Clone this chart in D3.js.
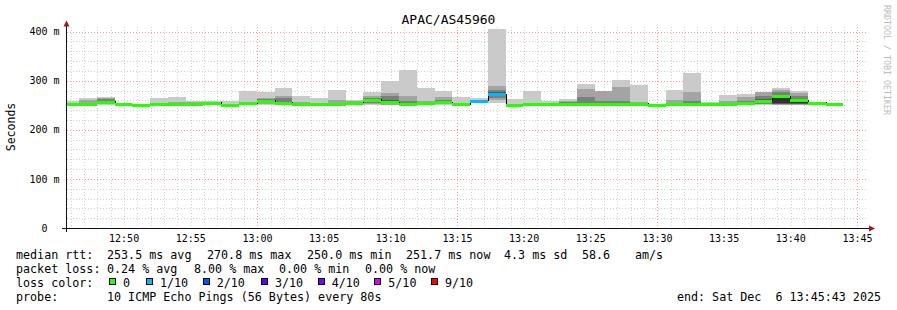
<!DOCTYPE html>
<html>
<head>
<meta charset="utf-8">
<script src="https://cdn.jsdelivr.net/npm/d3@7"></script>
<style>
  body { margin: 0; background: #fff; }
  text { font-family: "DejaVu Sans Mono", monospace; fill: #000; }
</style>
</head>
<body>
<svg id="chart"></svg>
<script>
// chart size
var width = 897;
var height = 310;

// plot box
var plotLeft = 67, plotRight = 867, plotTop = 27, plotBottom = 228;

// data (one bin every 80s)
var startTime = new Date(2025, 11, 6, 12, 45, 43);
var endTime = new Date(2025, 11, 6, 13, 45, 43);
var firstBinEnd = new Date(2025, 11, 6, 12, 46, 37);
var stepSec = 80;

var medians = [252, 252, 256, 251, 249.5, 251.5, 252, 251, 254, 249.5,
  253, 258, 254, 252, 251.5, 251.5, 254, 260, 255, 251,
  253, 255, 251, 258, 271, 249, 251, 251, 251, 252,
  252, 252, 252, 249, 251, 251, 251, 251.5, 254, 258,
  267, 259, 254, 251.7];

var losses = [0, 0, 0, 0, 0, 0, 0, 0, 0, 0,
  0, 0, 0, 0, 0, 0, 0, 0, 0, 0,
  0, 0, 0, 1, 1, 0, 0, 0, 0, 0,
  0, 0, 0, 0, 0, 0, 0, 0, 0, 0,
  0, 0, 0, 0];

// 10 sorted pings per bin
var pings = [
  [250, 251, 251, 252, 252, 252, 253, 254, 255, 259],
  [250, 251, 251, 252, 252, 252, 253, 255, 261, 264],
  [251, 252, 253, 255, 256, 256, 258, 262, 264, 267],
  [249, 250, 250, 251, 251, 251, 251, 252, 252, 253],
  [248, 248, 249, 249, 249, 250, 250, 250, 251, 251],
  [250, 250, 251, 251, 251, 252, 252, 253, 254, 264],
  [250, 251, 251, 252, 252, 252, 253, 254, 256, 267],
  [250, 250, 251, 251, 251, 251, 253, 255, 256, 258],
  [250, 251, 252, 253, 254, 254, 255, 256, 257, 259],
  [248, 248, 249, 249, 249, 250, 250, 250, 251, 259],
  [250, 251, 252, 252, 253, 253, 254, 255, 257, 279],
  [251, 253, 255, 257, 258, 258, 260, 262, 264, 276],
  [250, 251, 252, 253, 254, 254, 257, 264, 269, 286],
  [250, 251, 251, 252, 252, 252, 253, 255, 257, 268],
  [250, 250, 251, 251, 251, 252, 252, 253, 255, 265],
  [250, 250, 251, 251, 251, 252, 253, 255, 260, 281],
  [250, 251, 252, 253, 254, 254, 255, 256, 258, 261],
  [250, 252, 254, 256, 259, 261, 262, 265, 269, 277],
  [250, 251, 253, 254, 255, 255, 261, 268, 274, 299],
  [249, 250, 250, 251, 251, 251, 253, 259, 269, 321],
  [250, 251, 252, 253, 253, 253, 255, 257, 259, 286],
  [250, 252, 253, 254, 255, 255, 257, 261, 267, 280],
  [249, 250, 250, 251, 251, 251, 252, 253, 255, 266],
  [254, 255, 256, 257, 258, 258, 259, 260, 261, 264],
  [254, 260, 264, 270, 271, 271, 277, 282, 290, 406],
  [247, 248, 248, 249, 249, 249, 249, 250, 252, 262],
  [249, 250, 250, 251, 251, 251, 252, 253, 255, 280],
  [249, 250, 250, 251, 251, 251, 252, 253, 255, 258],
  [249, 250, 251, 251, 251, 251, 253, 256, 259, 262],
  [250, 251, 251, 252, 252, 252, 255, 266, 284, 294],
  [250, 251, 251, 252, 252, 252, 254, 258, 279, 280],
  [250, 251, 251, 252, 252, 252, 254, 258, 288, 302],
  [250, 251, 251, 252, 252, 252, 253, 255, 257, 292],
  [247, 248, 248, 249, 249, 249, 249, 250, 250, 251],
  [249, 250, 250, 251, 251, 251, 252, 255, 260, 281],
  [249, 250, 250, 251, 251, 251, 253, 258, 277, 315],
  [249, 250, 250, 251, 251, 251, 252, 253, 254, 256],
  [249, 250, 251, 251, 251, 252, 253, 255, 258, 270],
  [250, 251, 252, 253, 254, 254, 256, 259, 267, 273],
  [251, 252, 253, 255, 257, 259, 262, 268, 276, 278],
  [250, 251, 252, 253, 254, 264, 270, 278, 281, 286],
  [250, 251, 252, 253, 255, 258, 262, 268, 274, 280],
  [250, 251, 252, 253, 254, 254, 255, 255, 256, 257],
  [249, 250, 250, 251, 251, 252, 252, 252, 253, 254]
];

// y ticks
var yTickValues = [0, 100, 200, 300, 400];
var yTickLabels = ["0", "100 m", "200 m", "300 m", "400 m"];

// legend
var lossLabels = ["0", "1/10", "2/10", "3/10", "4/10", "5/10", "9/10"];
var lossColors = ["#26ff00", "#00b8ff", "#0059ff", "#5e00ff", "#7e00ff", "#dd00ff", "#ff0000"];
var medianStats = ["253.5 ms avg", "270.8 ms max", "250.0 ms min", "251.7 ms now", "4.3 ms sd", "58.6", "am/s"];
var lossStats = ["0.24 % avg", "8.00 % max", "0.00 % min", "0.00 % now"];

var smokeGreys = ["#cacaca", "#a4a4a4", "#7e7e7e", "#585858", "#323232"];

var svg = d3.select("#chart")
  .attr("width", width)
  .attr("height", height);

svg.append("rect").attr("width", width).attr("height", height).attr("fill", "#fff");

var x_Scale = d3.scaleTime().domain([startTime, endTime]).range([plotLeft, plotRight]);
var y_Scale = d3.scaleLinear().domain([0, 400]).range([plotBottom, 31.6]);

function px(v) { return Math.round(v) + 0.5; }

// grid: minor first, then the red major lines on top
var minorGrid = svg.append("g").attr("shape-rendering", "crispEdges");
var majorGrid = svg.append("g").attr("shape-rendering", "crispEdges");

d3.range(20, 420, 20).forEach(function(v) {
  if (y_Scale(v) < plotTop) return;
  var major = v % 100 === 0;
  (major ? majorGrid : minorGrid).append("line")
    .attr("x1", plotLeft).attr("x2", plotRight + 1)
    .attr("y1", px(y_Scale(v))).attr("y2", px(y_Scale(v)))
    .attr("stroke", major ? "#f09c9c" : "#d0d0d0")
    .attr("stroke-dasharray", "1,2");
});

x_Scale.ticks(d3.timeMinute.every(1)).forEach(function(t) {
  var major = t.getMinutes() % 15 === 0;
  (major ? majorGrid : minorGrid).append("line")
    .attr("x1", px(x_Scale(t))).attr("x2", px(x_Scale(t)))
    .attr("y1", plotTop).attr("y2", plotBottom)
    .attr("stroke", major ? "#f09c9c" : "#d0d0d0")
    .attr("stroke-dasharray", "1,2");
});

// bins
var bins = pings.map(function(p, i) {
  var end = new Date(firstBinEnd.getTime() + i * stepSec * 1000);
  var start = new Date(end.getTime() - stepSec * 1000);
  if (start < startTime) start = startTime;
  return { start: start, end: end, pings: p, median: medians[i], loss: losses[i] };
});

// smoke
var smoke = svg.append("g").attr("shape-rendering", "crispEdges");
bins.forEach(function(b) {
  for (var i = 0; i < 5; i++) {
    var lo = b.pings[i], hi = b.pings[9 - i];
    smoke.append("rect")
      .attr("x", Math.round(x_Scale(b.start)))
      .attr("width", Math.round(x_Scale(b.end)) - Math.round(x_Scale(b.start)))
      .attr("y", y_Scale(hi))
      .attr("height", Math.max(y_Scale(lo) - y_Scale(hi), 1))
      .attr("fill", smokeGreys[i]);
  }
});

// median line
var stepPts = [];
bins.forEach(function(b) {
  stepPts.push([x_Scale(b.start), y_Scale(b.median)]);
  stepPts.push([x_Scale(b.end), y_Scale(b.median)]);
});
svg.append("path")
  .attr("d", d3.line()(stepPts.map(function(p) { return [Math.round(p[0]), Math.round(p[1]) - 1]; })))
  .attr("fill", "none")
  .attr("stroke", "#000")
  .attr("stroke-width", 1)
  .attr("shape-rendering", "crispEdges");

// loss coloured median band
svg.append("g").attr("shape-rendering", "crispEdges")
  .selectAll("rect")
  .data(bins)
  .enter()
  .append("rect")
  .attr("x", function(d) { return Math.round(x_Scale(d.start)); })
  .attr("width", function(d) { return Math.round(x_Scale(d.end)) - Math.round(x_Scale(d.start)); })
  .attr("y", function(d) { return y_Scale(d.median) - 1.5; })
  .attr("height", 3)
  .attr("fill", function(d) { return lossColors[d.loss]; });

// axes
svg.append("line")
  .attr("x1", plotLeft - 5).attr("x2", plotRight + 2)
  .attr("y1", plotBottom + 0.5).attr("y2", plotBottom + 0.5)
  .attr("stroke", "#101010");
svg.append("line")
  .attr("x1", plotLeft - 0.5).attr("x2", plotLeft - 0.5)
  .attr("y1", plotBottom + 4).attr("y2", plotTop - 1)
  .attr("stroke", "#101010");

svg.append("path")
  .attr("d", "M63.5,26.5L69.5,26.5L66.5,20.5Z")
  .attr("fill", "#a01818");
svg.append("path")
  .attr("d", "M869,225.5L869,231.5L875,228.5Z")
  .attr("fill", "#a01818");

// tick labels
x_Scale.ticks(d3.timeMinute.every(5)).forEach(function(t) {
  svg.append("text")
    .attr("x", x_Scale(t))
    .attr("y", 241.5)
    .attr("text-anchor", "middle")
    .attr("font-size", "10px")
    .text(d3.timeFormat("%H:%M")(t));
});

yTickValues.forEach(function(v, i) {
  svg.append("text")
    .attr("x", 44.5)
    .attr("y", y_Scale(v) + 3.6)
    .attr("text-anchor", "middle")
    .attr("font-size", "10px")
    .text(yTickLabels[i]);
});

// title and axis label
svg.append("text")
  .attr("x", width / 2)
  .attr("y", 24)
  .attr("text-anchor", "middle")
  .attr("font-size", "13px")
  .text("APAC/AS45960");

svg.append("text")
  .attr("transform", "translate(15,127)rotate(-90)")
  .attr("text-anchor", "middle")
  .attr("font-size", "11.5px")
  .text("Seconds");

svg.append("text")
  .attr("transform", "translate(884,5)rotate(90)")
  .attr("font-size", "8.3px")
  .style("fill", "#bdbdbd")
  .text("RRDTOOL / TOBI OETIKER");

// legend
var legendFont = "11.7px";
function legendText(x, y, s, anchor) {
  svg.append("text")
    .attr("x", x).attr("y", y)
    .attr("font-size", legendFont)
    .attr("text-anchor", anchor || "start")
    .style("white-space", "pre")
    .text(s);
}

var medianX = [107, 207, 307, 406, 504, 582, 635];
legendText(16, 258.5, "median rtt:");
medianStats.forEach(function(s, i) { legendText(medianX[i], 258.5, s); });

var lossX = [107, 194, 279, 365];
legendText(16, 272.5, "packet loss:");
lossStats.forEach(function(s, i) { legendText(lossX[i], 272.5, s); });

var swatchX = [109, 146, 202.7, 261, 317.7, 374.3, 431];
legendText(16, 287, "loss color:");
lossLabels.forEach(function(s, i) {
  svg.append("rect")
    .attr("x", Math.round(swatchX[i]) + 0.5)
    .attr("y", 278.5)
    .attr("width", 6).attr("height", 6)
    .attr("fill", lossColors[i])
    .attr("stroke", "#000")
    .attr("stroke-width", 1)
    .attr("shape-rendering", "crispEdges");
  legendText(swatchX[i] + 14, 287, s);
});

legendText(16, 301, "probe:");
legendText(107, 301, "10 ICMP Echo Pings (56 Bytes) every 80s");
legendText(881, 301, "end: Sat Dec  6 13:45:43 2025", "end");
</script>
</body>
</html>
